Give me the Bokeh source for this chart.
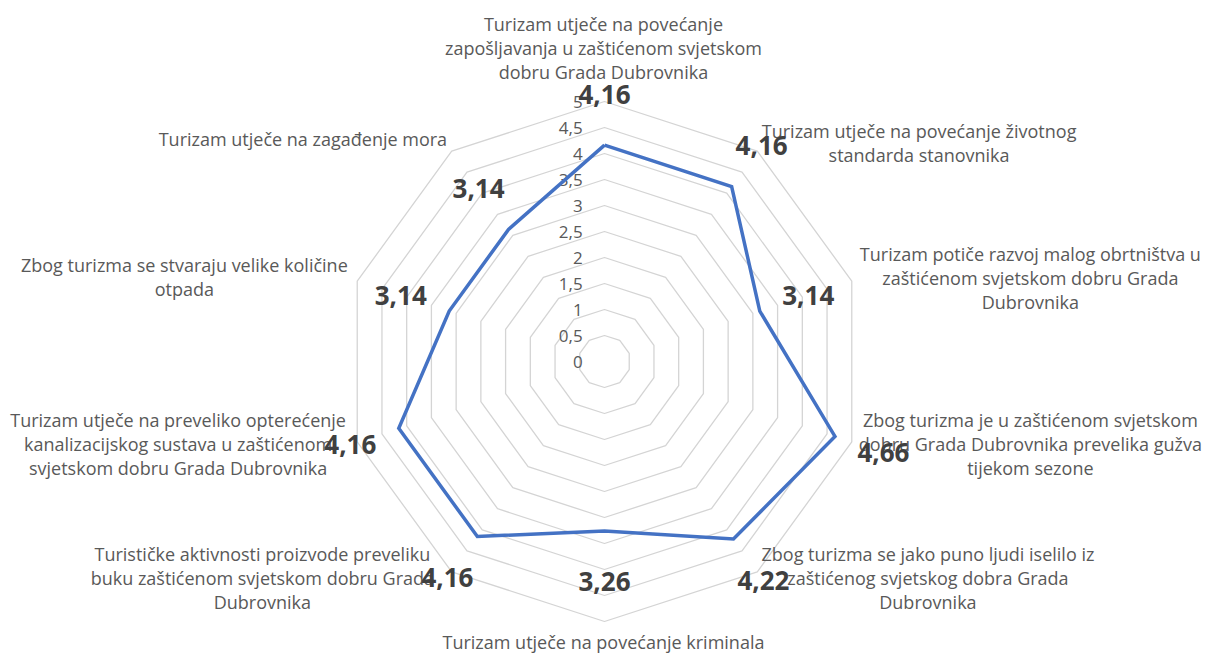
import math
from bokeh.plotting import figure
from bokeh.models import Range1d
from bokeh.core.properties import value
from bokeh.embed import file_html
from bokeh.resources import INLINE

# ---- data ----
categories = [
    "Turizam utječe na povećanje\nzapošljavanja u zaštićenom svjetskom\ndobru Grada Dubrovnika",
    "Turizam utječe na povećanje životnog\nstandarda stanovnika",
    "Turizam potiče razvoj malog obrtništva u\nzaštićenom svjetskom dobru Grada\nDubrovnika",
    "Zbog turizma je u zaštićenom svjetskom\ndobru Grada Dubrovnika prevelika gužva\ntijekom sezone",
    "Zbog turizma se jako puno ljudi iselilo iz\nzaštićenog svjetskog dobra Grada\nDubrovnika",
    "Turizam utječe na povećanje kriminala",
    "Turističke aktivnosti proizvode preveliku\nbuku zaštićenom svjetskom dobru Grada\nDubrovnika",
    "Turizam utječe na preveliko opterećenje\nkanalizacijskog sustava u zaštićenom\nsvjetskom dobru Grada Dubrovnika",
    "Zbog turizma se stvaraju velike količine\notpada",
    "Turizam utječe na zagađenje mora",
]
values = [4.16, 4.16, 3.14, 4.66, 4.22, 3.26, 4.16, 4.16, 3.14, 3.14]
value_labels = ["4,16", "4,16", "3,14", "4,66", "4,22", "3,26", "4,16", "4,16", "3,14", "3,14"]
tick_values = [0, 0.5, 1, 1.5, 2, 2.5, 3, 3.5, 4, 4.5, 5]
tick_labels = ["0", "0,5", "1", "1,5", "2", "2,5", "3", "3,5", "4", "4,5", "5"]

# ---- layout (label anchors, in axis units) ----
cat_label_x = [-0.02, 6.05, 8.19, 8.19, 6.22, -0.02, -6.58, -8.2, -8.08, -5.8]
cat_label_y = [6.02, 4.21, 1.61, -1.59, -4.17, -5.4, -4.17, -1.59, 1.63, 4.28]

S = 52.0  # px per unit
W, H = 1211, 653
cx, cy = 604.0, 361.0  # center in plot px

p = figure(width=W, height=H, output_backend="svg", toolbar_location=None,
           x_range=Range1d(-cx / S, (W - cx) / S),
           y_range=Range1d(-(H - cy) / S, cy / S),
           min_border=0)
p.axis.visible = False
p.grid.visible = False
p.outline_line_color = None
p.background_fill_color = "white"
p.border_fill_color = "white"

n = len(values)
angles = [math.pi / 2 - 2 * math.pi * i / n for i in range(n)]

# grid rings
xs, ys = [], []
for r in tick_values[1:]:
    xs.append([r * math.cos(a) for a in angles] + [r * math.cos(angles[0])])
    ys.append([r * math.sin(a) for a in angles] + [r * math.sin(angles[0])])
p.multi_line(xs, ys, line_color="#D4D4D4", line_width=1.3)

# tick labels
p.text(x=[-0.42] * len(tick_values), y=tick_values, text=tick_labels,
       text_align="right", text_baseline="middle", text_font=value("Open Sans"),
       text_font_size="17px", text_color="#595959")

# series
sx = [v * math.cos(a) for v, a in zip(values, angles)]
sy = [v * math.sin(a) for v, a in zip(values, angles)]
p.line(sx + sx[:1], sy + sy[:1], line_color="#4472C4", line_width=3.5, line_join="miter")

# category labels
p.text(x=cat_label_x, y=cat_label_y, text=categories, text_align="center",
       text_baseline="middle", text_font=value("Open Sans"), text_font_size="18px",
       text_color="#595959", text_line_height=1.0)

# value labels
lr = [v + 0.98 for v in values]
lx = [r * math.cos(a) for r, a in zip(lr, angles)]
ly = [r * math.sin(a) for r, a in zip(lr, angles)]
p.text(x=lx, y=ly, text=value_labels, text_align="center", text_baseline="middle",
       text_font=value("Open Sans"), text_font_size="26px", text_font_style="bold",
       text_color="#404040")

open("out.html", "w").write(file_html(p, INLINE))
